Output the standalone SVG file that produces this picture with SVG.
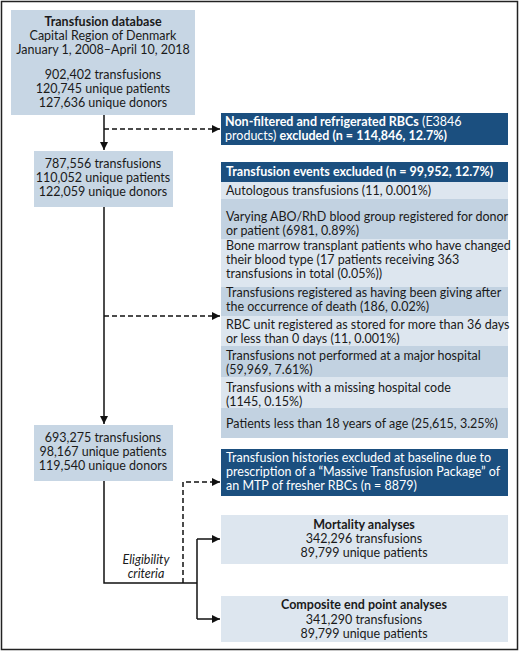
<svg xmlns="http://www.w3.org/2000/svg" width="520" height="653" viewBox="0 0 520 653">
<defs>
<marker id="ah" viewBox="0 0 10 10" refX="10" refY="5" markerWidth="8" markerHeight="8" markerUnits="userSpaceOnUse" orient="auto"><path d="M0,0 L10,5 L0,10 Z" fill="#111"/></marker>
<style>
text{font-family:Lato,"Liberation Sans",sans-serif;font-size:12.5px;fill:#1a1a1a}
.b{font-weight:bold}
.w{fill:#fff}
.c{text-anchor:middle}
.i{font-style:italic}
.box{fill:#c7d6e4}
.lt{fill:#dde6ef}
.dk{fill:#c2d2e1}
.navy{fill:#1b4f7f}
.ln{fill:none;stroke:#111;stroke-width:1.5}
.ds{fill:none;stroke:#111;stroke-width:1.5;stroke-dasharray:5,3}
</style>
</defs>
<rect x="1.5" y="1.5" width="516" height="648" fill="#fff" stroke="#222" stroke-width="1.5"/>

<g id="connectors">
<path class="ln" d="M104,115 V150" marker-end="url(#ah)"/>
<path class="ds" d="M104,129 H220" marker-end="url(#ah)"/>
<path class="ln" d="M104,207 V424" marker-end="url(#ah)"/>
<path class="ds" d="M104,316 H220" marker-end="url(#ah)"/>
<path class="ln" d="M104,481 V583 H197"/>
<path class="ln" d="M197,539 V619"/>
<path class="ln" d="M197,539 H220" marker-end="url(#ah)"/>
<path class="ln" d="M197,619 H220" marker-end="url(#ah)"/>
<path class="ds" d="M183,583 V482 H220" marker-end="url(#ah)"/>
<text class="i c" x="146" y="564">Eligibility</text>
<text class="i c" x="146" y="578">criteria</text>
</g>

<g id="database">
<rect class="box" x="11" y="10" width="184" height="105"/>
<text class="c b" x="103" y="26">Transfusion database</text>
<text class="c" x="103" y="40">Capital Region of Denmark</text>
<text class="c" x="103" y="54">January 1, 2008–April 10, 2018</text>
<text class="c" x="103" y="79">902,402 transfusions</text>
<text class="c" x="103" y="93">120,745 unique patients</text>
<text class="c" x="103" y="107">127,636 unique donors</text>
</g>

<g id="step2">
<rect class="box" x="34" y="151" width="139" height="56"/>
<text class="c" x="103" y="168">787,556 transfusions</text>
<text class="c" x="103" y="182">110,052 unique patients</text>
<text class="c" x="103" y="196">122,059 unique donors</text>
</g>

<g id="step3">
<rect class="box" x="34" y="425" width="139" height="56"/>
<text class="c" x="103" y="442">693,275 transfusions</text>
<text class="c" x="103" y="456">98,167 unique patients</text>
<text class="c" x="103" y="470">119,540 unique donors</text>
</g>

<g id="nonfiltered">
<rect class="navy" x="221" y="113" width="287" height="32"/>
<text class="w" x="225" y="126"><tspan class="b w">Non-filtered and refrigerated RBCs</tspan> (E3846</text>
<text class="w" x="225" y="140">products) <tspan class="b w">excluded (n = 114,846, 12.7%)</tspan></text>
</g>

<g id="events-excluded">
<rect class="navy" x="221" y="162" width="287" height="20"/>
<text class="b w" x="226" y="176">Transfusion events excluded (n = 99,952, 12.7%)</text>
<rect class="lt" x="221" y="182" width="287" height="17"/>
<text x="226" y="195">Autologous transfusions (11, 0.001%)</text>
<rect class="dk" x="221" y="199" width="287" height="40"/>
<text x="226" y="221">Varying ABO/RhD blood group registered for donor</text>
<text x="226" y="235">or patient (6981, 0.89%)</text>
<rect class="lt" x="221" y="239" width="287" height="48"/>
<text x="226" y="250">Bone marrow transplant patients who have changed</text>
<text x="226" y="264">their blood type (17 patients receiving 363</text>
<text x="226" y="278">transfusions in total (0.05%))</text>
<rect class="dk" x="221" y="287" width="287" height="29"/>
<text x="226" y="297">Transfusions registered as having been giving after</text>
<text x="226" y="311">the occurrence of death (186, 0.02%)</text>
<rect class="lt" x="221" y="316" width="287" height="30"/>
<text x="226" y="329">RBC unit registered as stored for more than 36 days</text>
<text x="226" y="343">or less than 0 days (11, 0.001%)</text>
<rect class="dk" x="221" y="346" width="287" height="31"/>
<text x="226" y="360">Transfusions not performed at a major hospital</text>
<text x="226" y="374">(59,969, 7.61%)</text>
<rect class="lt" x="221" y="377" width="287" height="31"/>
<text x="226" y="392">Transfusions with a missing hospital code</text>
<text x="226" y="406">(1145, 0.15%)</text>
<rect class="dk" x="221" y="408" width="287" height="30"/>
<text x="226" y="428">Patients less than 18 years of age (25,615, 3.25%)</text>
</g>

<g id="mtp">
<rect class="navy" x="221" y="449" width="287" height="47"/>
<text class="w" x="226" y="462">Transfusion histories excluded at baseline due to</text>
<text class="w" x="226" y="476">prescription of a “Massive Transfusion Package” of</text>
<text class="w" x="226" y="490">an MTP of fresher RBCs (n = 8879)</text>
</g>

<g id="mortality">
<rect class="lt" x="221" y="515" width="287" height="49"/>
<text class="c b" x="364" y="529">Mortality analyses</text>
<text class="c" x="364" y="543">342,296 transfusions</text>
<text class="c" x="364" y="557">89,799 unique patients</text>
</g>

<g id="composite">
<rect class="lt" x="221" y="596" width="287" height="46"/>
<text class="c b" x="364" y="609">Composite end point analyses</text>
<text class="c" x="364" y="624">341,290 transfusions</text>
<text class="c" x="364" y="638">89,799 unique patients</text>
</g>
</svg>
